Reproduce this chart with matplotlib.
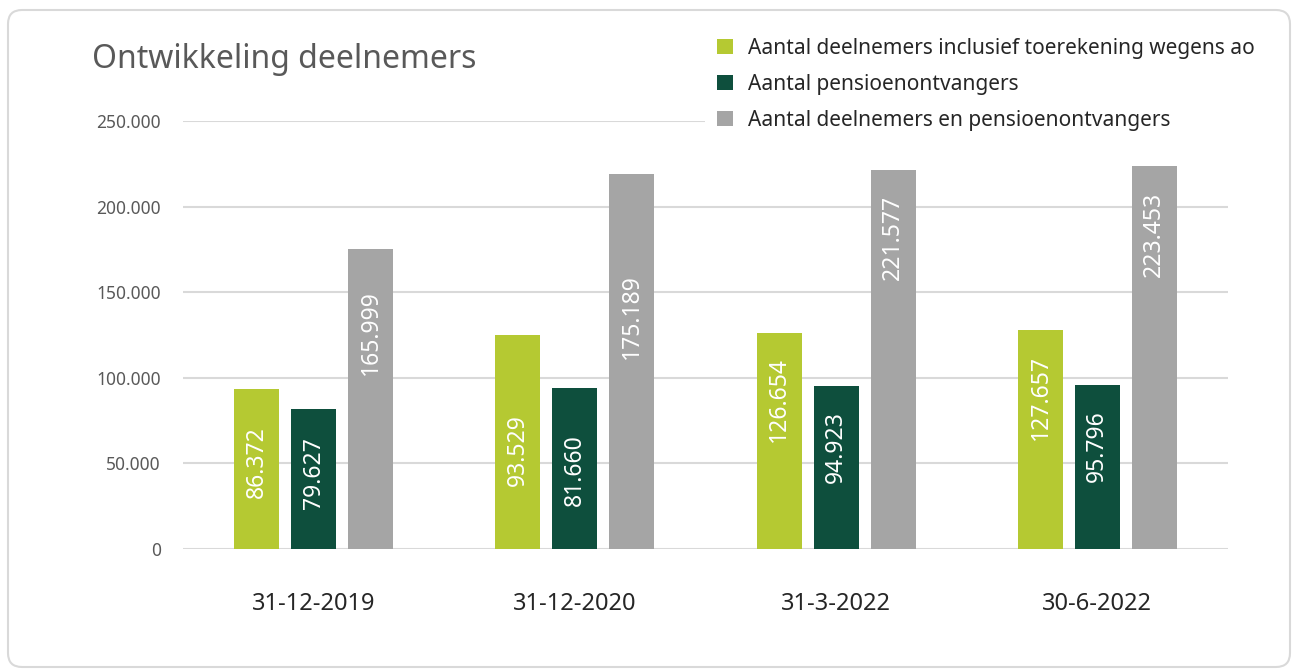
import matplotlib
matplotlib.use("Agg")
import matplotlib.pyplot as plt
import numpy as np
from matplotlib.patches import FancyBboxPatch, Patch
from matplotlib.transforms import IdentityTransform
from matplotlib.ticker import FuncFormatter

categories = ["31-12-2019", "31-12-2020", "31-3-2022", "30-6-2022"]
series_names = [
    "Aantal deelnemers inclusief toerekening wegens ao",
    "Aantal pensioenontvangers",
    "Aantal deelnemers en pensioenontvangers",
]
# bar heights as drawn in the picture
deelnemers = [93500, 124800, 126100, 127700]
pensioenontvangers = [81700, 94200, 95000, 95800]
totaal = [175200, 219300, 221600, 223500]
# data labels as printed
label_deelnemers = [86372, 93529, 126654, 127657]
label_pensioen = [79627, 81660, 94923, 95796]
label_totaal = [165999, 175189, 221577, 223453]

colors = ["#B5C932", "#0E4F3D", "#A5A5A5"]
FONT = "Noto Sans"
plt.rcParams["font.family"] = [FONT, "DejaVu Sans"]

def fmt(v):
    return f"{int(v):,}".replace(",", ".")

fig = plt.figure(figsize=(12.97, 6.70), dpi=100)
fig.patch.set_facecolor("white")

border = FancyBboxPatch((8, 3), 1282, 657, boxstyle="round,pad=0,rounding_size=14",
                        transform=IdentityTransform(), facecolor="none",
                        edgecolor="#D9D9D9", linewidth=1.5, zorder=0)
fig.patches.append(border)

ax = fig.add_axes([183/1297, 1-548.7/670, (1228-183)/1297, (548.7-121)/670])
x = np.arange(len(categories))
width = 0.172
step = 0.218
heights = [deelnemers, pensioenontvangers, totaal]
labels = [label_deelnemers, label_pensioen, label_totaal]
for i, (h, lab) in enumerate(zip(heights, labels)):
    xs = x + (i - 1) * step
    ax.bar(xs, h, width=width, color=colors[i], label=series_names[i], zorder=3)
    for xi, lv in zip(xs, lab):
        ax.annotate(fmt(lv), (xi, lv), xytext=(0, -25), textcoords="offset pixels",
                    rotation=90, ha="center", va="top", color="white",
                    fontsize=16.5, zorder=4)

ax.set_xlim(-0.5, 3.5)
ax.set_ylim(0, 250000)
ax.set_yticks(np.arange(0, 250001, 50000))
ax.yaxis.set_major_formatter(FuncFormatter(lambda v, p: fmt(v)))
ax.grid(axis="y", color="#D9D9D9", linewidth=1.5, zorder=0)
ax.set_axisbelow(True)
for s in ax.spines.values():
    s.set_visible(False)
ax.set_xticks(x)
ax.set_xticklabels(categories)
ax.tick_params(axis="y", length=0, pad=16, labelsize=12.5, labelcolor="#595959")
ax.tick_params(axis="x", length=0, pad=31, labelsize=17, labelcolor="#262626")

fig.text(92/1297, 1-59/670, "Ontwikkeling deelnemers", fontsize=23, color="#595959",
         va="center", ha="left")

handles = [Patch(facecolor=c) for c in colors]
leg = fig.legend(handles, series_names, loc="upper left",
                 bbox_to_anchor=(705/1297, 1-26/670), frameon=True, fontsize=15,
                 handlelength=0.75, handleheight=0.75, handletextpad=0.72,
                 labelspacing=0.72, borderpad=0.58, borderaxespad=0,
                 labelcolor="#262626", fancybox=False, framealpha=1)
leg.get_frame().set_facecolor("white")
leg.get_frame().set_edgecolor("none")

fig.savefig("out.png", dpi=100)
